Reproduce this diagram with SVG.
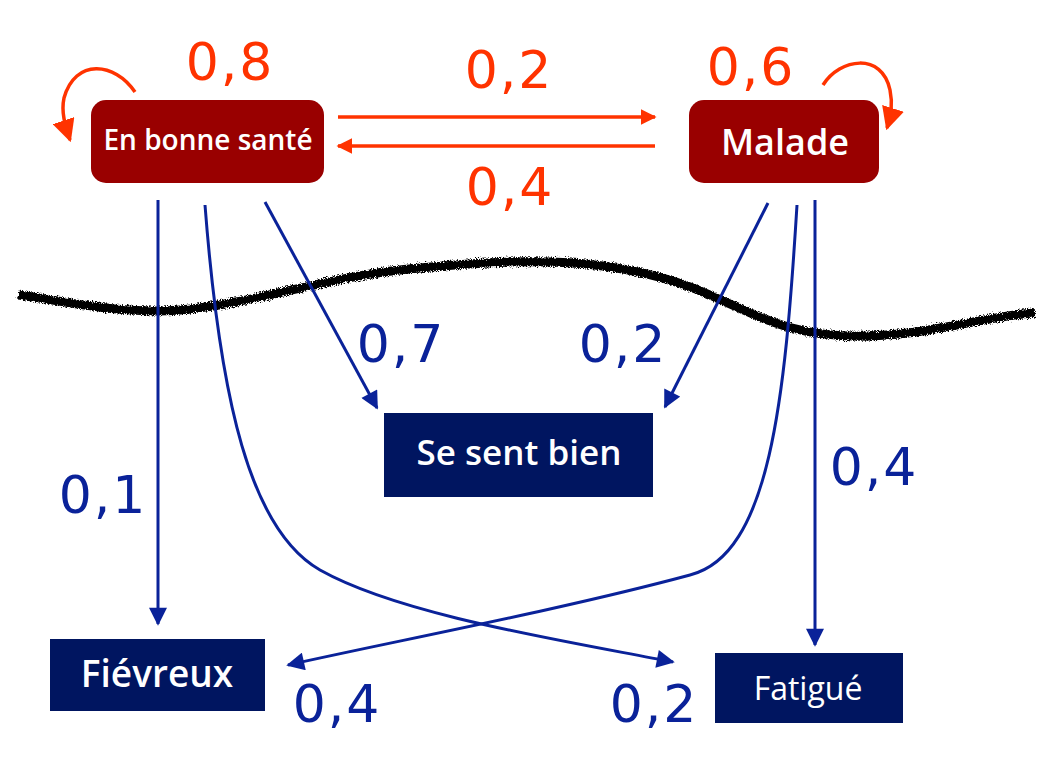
<svg xmlns="http://www.w3.org/2000/svg" width="1048" height="767" viewBox="0 0 1048 767">
<defs>
<marker id="ar" viewBox="0 0 10 10" refX="9" refY="5" markerWidth="6.5" markerHeight="6.5" orient="auto" markerUnits="strokeWidth"><path d="M0,0 L10,5 L0,10 z" fill="#ff3300"/></marker>
<marker id="arh" viewBox="0 0 10 10" refX="9" refY="5" markerWidth="4.5" markerHeight="4.5" orient="auto" markerUnits="strokeWidth"><path d="M0,0 L10,5 L0,10 z" fill="#ff3300"/></marker>
<marker id="ab" viewBox="0 0 10 10" refX="9" refY="5" markerWidth="6.5" markerHeight="6" orient="auto" markerUnits="strokeWidth"><path d="M0,0 L10,5 L0,10 z" fill="#0a2299"/></marker>
<filter id="rough" x="-5%" y="-50%" width="110%" height="200%"><feTurbulence type="fractalNoise" baseFrequency="1.2" numOctaves="2" seed="3"/><feDisplacementMap in="SourceGraphic" scale="6"/></filter>
</defs>
<style>
.red{fill:none;stroke:#ff3300;stroke-width:3.5}
.blue{fill:none;stroke:#0a2299;stroke-width:3}
.nr{fill:#990000}
.nb{fill:#001560}
.t{fill:#fff;font-family:"Open Sans","DejaVu Sans",sans-serif;text-anchor:middle}
.lr{fill:#ff3300;font-family:"DejaVu Sans","Liberation Sans",sans-serif;font-size:52px;letter-spacing:2px;text-anchor:middle}
.lb{fill:#0a2299;font-family:"DejaVu Sans","Liberation Sans",sans-serif;font-size:52px;letter-spacing:2px;text-anchor:middle}
</style>
<rect width="1048" height="767" fill="#fff"/>
<path d="M18,295 C60,300 120,315 180,310 C260,303 330,275 420,268 C520,258 620,255 710,295 C770,322 800,338 870,336 C940,333 990,315 1035,313" fill="none" stroke="#000" stroke-width="9" filter="url(#rough)"/>
<g id="connectors">
<path class="red" d="M338,117 L655,117" marker-end="url(#arh)"/>
<path class="red" d="M655,146 L338,146" marker-end="url(#arh)"/>
<path class="red" d="M135,92 C115,62 75,58 64,98 C61,112 65,125 70,140" marker-end="url(#ar)"/>
<path class="red" d="M823,85 C840,58 882,52 890,90 C893,105 891,115 887,128" marker-end="url(#ar)"/>
<path class="blue" d="M158,200 L158,624" marker-end="url(#ab)"/>
<path class="blue" d="M265,202 L377,408" marker-end="url(#ab)"/>
<path class="blue" d="M768,203 L665,407" marker-end="url(#ab)"/>
<path class="blue" d="M815,200 L815,645" marker-end="url(#ab)"/>
<path class="blue" d="M205,205 C220,400 250,530 320,570 C400,615 560,640 673,662" marker-end="url(#ab)"/>
<path class="blue" d="M797,205 C785,400 770,555 690,575 C560,610 400,640 288,665" marker-end="url(#ab)"/>
</g>
<g id="n-sante"><rect class="nr" x="91" y="100" width="233" height="83" rx="15"/><text class="t" x="208" y="150" font-size="28" font-weight="600">En bonne santé</text></g>
<g id="n-malade"><rect class="nr" x="689" y="100" width="190" height="83" rx="15"/><text class="t" x="785" y="155" font-size="36" font-weight="600">Malade</text></g>
<g id="n-bien"><rect class="nb" x="384" y="413" width="269" height="84"/><text class="t" x="519" y="465" font-size="35" font-weight="600">Se sent bien</text></g>
<g id="n-fievreux"><rect class="nb" x="50" y="639" width="215" height="72"/><text class="t" x="157" y="687" font-size="37" font-weight="600">Fiévreux</text></g>
<g id="n-fatigue"><rect class="nb" x="715" y="653" width="188" height="70"/><text class="t" x="808" y="700" font-size="32">Fatigué</text></g>
<g id="labels">
<text class="lr" x="230" y="80">0,8</text>
<text class="lr" x="509" y="88">0,2</text>
<text class="lr" x="751" y="85">0,6</text>
<text class="lr" x="510" y="205">0,4</text>
<text class="lb" x="401" y="362">0,7</text>
<text class="lb" x="623" y="362">0,2</text>
<text class="lb" x="103" y="513">0,1</text>
<text class="lb" x="874" y="485">0,4</text>
<text class="lb" x="337" y="722">0,4</text>
<text class="lb" x="654" y="722">0,2</text>
</g>
</svg>
